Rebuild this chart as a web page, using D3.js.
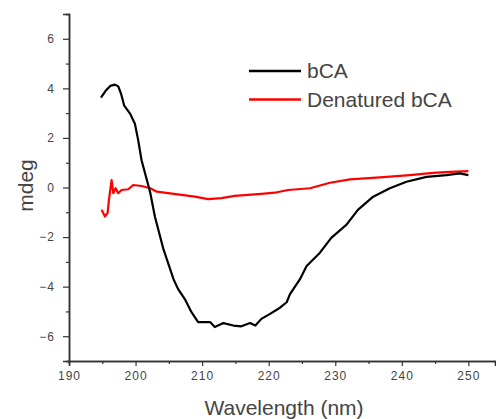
<!DOCTYPE html>
<html>
<head>
<meta charset="utf-8">
<script src="https://cdn.jsdelivr.net/npm/d3@7"></script>
<style>
  body { margin: 0; background: #fff; }
  svg text { font-family: "Liberation Sans", Arial, sans-serif; }
</style>
</head>
<body>
<div id="chart"></div>
<script>
// bCA (native) CD spectrum
const bcaWl = [194.8, 195.5, 196.2, 196.9, 197.4, 197.8, 198.3, 199.2, 199.9, 200.4, 200.9, 201.7, 202.2, 202.9, 204.2,
  205.7, 206.4, 207.4, 208.4, 209.4, 211.2, 211.9, 213.2, 214.7, 215.9, 217.2, 218.0, 218.9, 220.2, 221.7,
  222.7, 223.2, 223.7, 224.7, 225.7, 227.7, 229.4, 231.7, 233.4, 235.7, 238.2, 240.7, 243.7, 246.7, 248.7, 250];
const bcaMdeg = [3.63, 3.9, 4.1, 4.15, 4.08, 3.8, 3.3, 2.97, 2.57, 1.9, 1.1, 0.3, -0.2, -1.17, -2.5,
  -3.7, -4.1, -4.5, -5.03, -5.43, -5.43, -5.63, -5.47, -5.57, -5.6, -5.47, -5.57, -5.3, -5.1, -4.85,
  -4.63, -4.3, -4.1, -3.7, -3.17, -2.63, -2.03, -1.5, -0.9, -0.37, -0.03, 0.23, 0.43, 0.5, 0.57, 0.5];

// denatured bCA
const denWl = [194.9, 195.4, 195.8, 196.0, 196.2, 196.4, 196.65, 197.0, 197.4, 197.9, 198.9, 199.65, 200.9,
  202.2, 203.2, 204.9, 206.9, 208.9, 210.9, 212.9, 214.9, 216.9, 218.9, 220.9, 222.9, 226.2, 229.2, 232.2,
  236.7, 241.2, 244.7, 247.2, 250];
const denMdeg = [-0.9, -1.17, -1.03, -0.5, -0.1, 0.3, -0.23, -0.03, -0.23, -0.1, -0.07, 0.1, 0.06,
  -0.03, -0.17, -0.23, -0.3, -0.37, -0.47, -0.43, -0.34, -0.3, -0.26, -0.21, -0.1, -0.03, 0.19, 0.33,
  0.41, 0.5, 0.59, 0.63, 0.66];

const seriesNames = ['bCA', 'Denatured bCA'];
const seriesColors = ['#000000', '#ff0000'];
const xTicks = [190, 200, 210, 220, 230, 240, 250];
const yTicks = [-6, -4, -2, 0, 2, 4, 6];

const width = 496, height = 419;
const svg = d3.select('#chart').append('svg')
  .attr('width', width)
  .attr('height', height);

const x = d3.scaleLinear().domain([190, 254]).range([69, 495]);
const y = d3.scaleLinear().domain([-7, 7]).range([361, 14]);

const axisColor = '#333';
const labelColor = '#444';

function styleAxis(g) {
  g.select('.domain').attr('stroke', axisColor).attr('stroke-width', 1.5);
  g.selectAll('.tick line').attr('stroke', axisColor).attr('stroke-width', 1.2);
  g.selectAll('.tick text').attr('fill', labelColor).attr('font-size', 12).style('letter-spacing', '1px');
}

// x axis: minor then major ticks
svg.append('g').attr('transform', `translate(0,${y(-7)})`)
  .call(d3.axisBottom(x).tickValues(d3.range(195, 255, 10)).tickSize(3).tickFormat(''))
  .call(styleAxis);
svg.append('g').attr('transform', `translate(0,${y(-7)})`)
  .call(d3.axisBottom(x).tickValues(xTicks).tickSize(5).tickPadding(5).tickFormat(d3.format('d')))
  .call(styleAxis);

// y axis
svg.append('g').attr('transform', `translate(${x(190)},0)`)
  .call(d3.axisLeft(y).tickValues(d3.range(-7, 8, 2)).tickSize(3).tickFormat(''))
  .call(styleAxis);
svg.append('g').attr('transform', `translate(${x(190)},0)`)
  .call(d3.axisLeft(y).tickValues(yTicks).tickSize(6).tickPadding(8).tickFormat(d3.format('d')))
  .call(styleAxis);

// axis titles
svg.append('text')
  .attr('transform', `translate(33,${y(0) - 2}) rotate(-90)`)
  .attr('text-anchor', 'middle')
  .attr('font-size', 21)
  .attr('fill', labelColor)
  .text('mdeg');
svg.append('text')
  .attr('x', 284).attr('y', 415)
  .attr('text-anchor', 'middle')
  .attr('font-size', 21)
  .attr('fill', labelColor)
  .text('Wavelength (nm)');

// curves (denatured drawn first, native on top)
const line = d3.line().x(d => x(d[0])).y(d => y(d[1]));
const curves = [
  { pts: d3.zip(denWl, denMdeg), color: seriesColors[1] },
  { pts: d3.zip(bcaWl, bcaMdeg), color: seriesColors[0] }
];
svg.selectAll('.curve')
  .data(curves)
  .enter().append('path')
  .attr('class', 'curve')
  .attr('d', d => line(d.pts))
  .attr('fill', 'none')
  .attr('stroke', d => d.color)
  .attr('stroke-width', 2.2)
  .attr('stroke-linejoin', 'round');

// legend
const legend = svg.append('g');
seriesNames.forEach((name, i) => {
  const ly = 71 + i * 28.5;
  legend.append('line')
    .attr('x1', 249).attr('x2', 301)
    .attr('y1', ly).attr('y2', ly)
    .attr('stroke', seriesColors[i])
    .attr('stroke-width', 2.5);
  legend.append('text')
    .attr('x', 307).attr('y', ly + 7)
    .attr('font-size', 21)
    .attr('fill', labelColor)
    .text(name);
});
</script>
</body>
</html>
